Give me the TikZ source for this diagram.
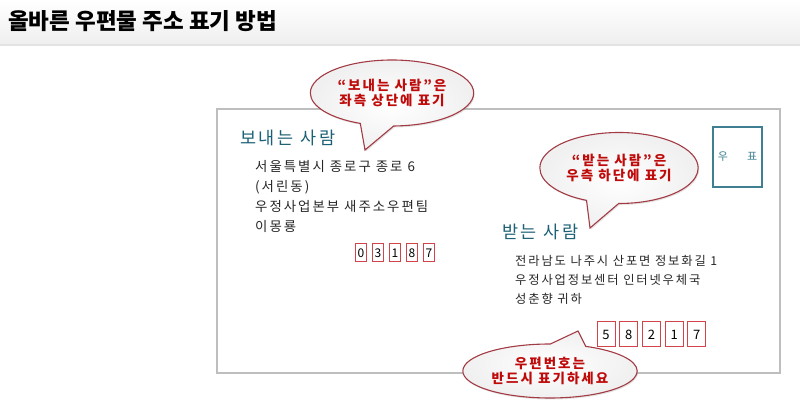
\documentclass[tikz,border=0pt]{standalone}
\usepackage{fontspec}
\usepackage{xcolor}
\usetikzlibrary{shapes.callouts,shadows}
\setmainfont{Noto Sans CJK KR}
\newfontfamily\kfont{Noto Sans CJK KR}[LetterSpace=15]
\definecolor{titleteal}{HTML}{1B6074}
\definecolor{stampteal}{HTML}{3F7F91}
\definecolor{notered}{HTML}{BF0A0A}
\definecolor{bubbleline}{HTML}{A33B45}
\definecolor{zipred}{HTML}{D2444A}
\definecolor{bodygray}{HTML}{262626}
\definecolor{envgray}{HTML}{BEBEBE}
\definecolor{headgray}{HTML}{EFEFEF}
\definecolor{headline}{HTML}{E3E3E3}

\begin{document}
\begin{tikzpicture}[x=1pt,y=-1pt,
    note/.style={ellipse callout, draw=bubbleline, line width=1.1pt, inner color=white, outer color=gray!12,
      callout pointer arc=24, text=notered, align=center,
      font=\kfont\bfseries\fontsize{13.5}{14.5}\selectfont,
      drop shadow={opacity=.22, shadow xshift=1pt, shadow yshift=-1.5pt}},
    who/.style={anchor=west, inner sep=0pt, text=titleteal, font=\kfont\fontsize{17.5}{20}\selectfont},
    addr/.style={anchor=north west, inner sep=0pt, text=bodygray, align=left},
    zipbox/.style={draw=zipred, line width=1pt, inner sep=0pt, text=black}
  ]
  \useasboundingbox (0,0) rectangle (800,411);
  % header bar
  \shade[top color=white, bottom color=headgray] (0,0) rectangle (800,44);
  \draw[headline, line width=2pt] (0,45) -- (800,45);
  \node[anchor=west, inner sep=0pt, font=\bfseries\fontsize{22.5}{24}\selectfont] (title) at (8,21) {올바른 우편물 주소 표기 방법};

  % envelope
  \draw[envgray, line width=1.5pt] (217,109) rectangle (780,373);
  \node[draw=stampteal, line width=1.1pt, minimum width=49pt, minimum height=60pt, text=stampteal,
    font=\fontsize{11}{12}\selectfont] (stamp) at (737.5,157) {우\hspace{19pt}표};

  % sender
  \node[who] (sender) at (240,138) {보내는 사람};
  \node[addr, font=\kfont\fontsize{13.4}{20.2}\selectfont] (senderaddr) at (255,160)
    {서울특별시 종로구 종로 6\\(서린동)\\우정사업본부 새주소우편팀\\이몽룡};
  \node[zipbox, minimum width=11.5pt, minimum height=18pt, font=\fontsize{12}{12}\selectfont] (szip1) at (361,253) {0};
  \node[zipbox, minimum width=11.5pt, minimum height=18pt, font=\fontsize{12}{12}\selectfont] (szip2) at (378,253) {3};
  \node[zipbox, minimum width=11.5pt, minimum height=18pt, font=\fontsize{12}{12}\selectfont] (szip3) at (395,253) {1};
  \node[zipbox, minimum width=11.5pt, minimum height=18pt, font=\fontsize{12}{12}\selectfont] (szip4) at (412,253) {8};
  \node[zipbox, minimum width=11.5pt, minimum height=18pt, font=\fontsize{12}{12}\selectfont] (szip5) at (429,253) {7};

  % receiver
  \node[who] (receiver) at (502,232) {받는 사람};
  \node[addr, font=\kfont\fontsize{12.3}{19.2}\selectfont] (receiveraddr) at (515,255)
    {전라남도 나주시 산포면 정보화길 1\\우정사업정보센터 인터넷우체국\\성춘향 귀하};
  \node[zipbox, minimum width=18pt, minimum height=25pt, font=\fontsize{13}{13}\selectfont] (rzip1) at (606,334.5) {5};
  \node[zipbox, minimum width=18pt, minimum height=25pt, font=\fontsize{13}{13}\selectfont] (rzip2) at (628.7,334.5) {8};
  \node[zipbox, minimum width=18pt, minimum height=25pt, font=\fontsize{13}{13}\selectfont] (rzip3) at (651.4,334.5) {2};
  \node[zipbox, minimum width=18pt, minimum height=25pt, font=\fontsize{13}{13}\selectfont] (rzip4) at (674.1,334.5) {1};
  \node[zipbox, minimum width=18pt, minimum height=25pt, font=\fontsize{13}{13}\selectfont] (rzip5) at (696.8,334.5) {7};

  % speech bubbles
  \coordinate (tip1) at (365,150);
  \coordinate (tip2) at (590,228);
  \coordinate (tip3) at (578,331);
  \node[note, minimum width=134pt, minimum height=66pt, callout absolute pointer={(tip1)}] (note1) at (392,93)
    {“보내는 사람”은\\좌측 상단에 표기};
  \node[note, minimum width=138pt, minimum height=71pt, callout absolute pointer={(tip2)}] (note2) at (619,168)
    {“받는 사람”은\\우측 하단에 표기};
  \node[note, minimum width=135pt, minimum height=54pt, callout absolute pointer={(tip3)}] (note3) at (550,371)
    {우편번호는\\반드시 표기하세요};
\end{tikzpicture}
\end{document}
